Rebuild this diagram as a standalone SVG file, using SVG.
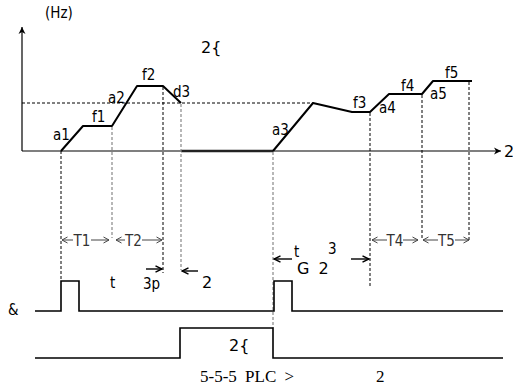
<svg xmlns="http://www.w3.org/2000/svg" width="513" height="390" viewBox="0 0 513 390">
<defs>
<style>
.ax{stroke:#000;stroke-width:1.2;fill:none}
.cv{stroke:#000;stroke-width:2;fill:none;stroke-linejoin:round}
.dk{stroke:#000;stroke-width:1;stroke-dasharray:3 2;fill:none}
.dg{stroke:#888;stroke-width:1.2;stroke-dasharray:3 2;fill:none}
.dim{stroke:#444;stroke-width:1;fill:none}
.arr{stroke:#000;stroke-width:1.4;fill:none}
.pl{stroke:#000;stroke-width:1.6;fill:none}
.lb{font-family:"DejaVu Sans Condensed","DejaVu Sans",sans-serif;font-size:15px;fill:#000}
.tl{font-family:"DejaVu Sans Condensed","DejaVu Sans",sans-serif;font-size:15px;fill:#333}
.wd{font-family:"DejaVu Sans",sans-serif;font-size:16px;fill:#000}
.cap{font-family:"Liberation Serif",serif;font-size:17px;fill:#000}
</style>
<marker id="ah" markerWidth="8" markerHeight="8" refX="7" refY="4" orient="auto" markerUnits="userSpaceOnUse">
<path d="M0,0.5 L7,4 L0,7.5 L2,4 Z" fill="#000"/>
</marker>
<marker id="ao" markerWidth="8" markerHeight="8" refX="6.5" refY="4" orient="auto" markerUnits="userSpaceOnUse">
<path d="M1,1 L6.5,4 L1,7" fill="none" stroke="#444" stroke-width="1"/>
</marker>
<marker id="ab" markerWidth="9" markerHeight="8" refX="7.5" refY="4" orient="auto" markerUnits="userSpaceOnUse">
<path d="M1,0.8 L7.5,4 L1,7.2" fill="none" stroke="#000" stroke-width="1.4"/>
</marker>
</defs>

<g id="axes">
<line class="ax" x1="22" y1="151" x2="22" y2="27" marker-end="url(#ah)"/>
<line class="ax" x1="22" y1="151" x2="501" y2="151" marker-end="url(#ah)"/>
<text class="lb" x="45" y="18">(Hz)</text>
<text class="wd" x="504" y="157">2</text>
</g>

<g id="curve">
<polyline class="cv" points="61,151 83,126 112,126 137,86 163,86 181,103"/>
<line x1="181" y1="151" x2="273" y2="151" stroke="#222" stroke-width="2.5"/>
<polyline class="cv" points="273,151 313,103 352,112 370,112 389,94 422,94 433,81 472,81"/>
<text class="wd" x="201" y="53">2{</text>
</g>

<g id="labels">
<text class="lb" x="53" y="140">a1</text>
<text class="lb" x="92" y="122">f1</text>
<text class="lb" x="108" y="103">a2</text>
<text class="lb" x="142" y="80">f2</text>
<text class="lb" x="173" y="97">d3</text>
<text class="lb" x="272" y="135">a3</text>
<text class="lb" x="353" y="108">f3</text>
<text class="lb" x="379" y="113">a4</text>
<text class="lb" x="401" y="91">f4</text>
<text class="lb" x="430" y="99">a5</text>
<text class="lb" x="445" y="78">f5</text>
</g>

<g id="guides">
<line class="dk" x1="22" y1="103" x2="313" y2="103"/>
<line class="dk" x1="61" y1="151" x2="61" y2="281"/>
<line class="dg" x1="112" y1="127" x2="112" y2="238"/>
<line class="dk" x1="163" y1="87" x2="163" y2="273"/>
<line class="dg" x1="181" y1="104" x2="181" y2="270"/>
<line class="dg" x1="273" y1="152" x2="273" y2="328"/>
<line class="dk" x1="370" y1="113" x2="370" y2="287"/>
<line class="dk" x1="422" y1="95" x2="422" y2="240"/>
<line class="dk" x1="469" y1="82" x2="469" y2="240"/>
</g>

<g id="dimensions">
<line class="dim" x1="73" y1="240" x2="62" y2="240" marker-end="url(#ao)"/>
<line class="dim" x1="91" y1="240" x2="109" y2="240" marker-end="url(#ao)"/>
<text class="tl" x="82" y="246" text-anchor="middle">T1</text>
<line class="dim" x1="125" y1="240" x2="116" y2="240" marker-end="url(#ao)"/>
<line class="dim" x1="142" y1="240" x2="162" y2="240" marker-end="url(#ao)"/>
<text class="tl" x="133.5" y="246" text-anchor="middle">T2</text>
<line class="dim" x1="387" y1="240" x2="372" y2="240" marker-end="url(#ao)"/>
<line class="dim" x1="403" y1="240" x2="418" y2="240" marker-end="url(#ao)"/>
<text class="tl" x="395" y="246" text-anchor="middle">T4</text>
<line class="dim" x1="438" y1="240" x2="423" y2="240" marker-end="url(#ao)"/>
<line class="dim" x1="455" y1="240" x2="469" y2="240" marker-end="url(#ao)"/>
<text class="tl" x="446.5" y="246" text-anchor="middle">T5</text>

<line class="arr" x1="146" y1="269" x2="162" y2="269" marker-end="url(#ab)"/>
<line class="arr" x1="198" y1="271" x2="182" y2="271" marker-end="url(#ab)"/>
<text class="lb" x="110" y="288">t</text>
<text class="lb" x="143" y="289">3p</text>
<text class="wd" x="202" y="288">2</text>

<line class="arr" x1="292" y1="259" x2="274" y2="259" marker-end="url(#ab)"/>
<line class="arr" x1="351" y1="259" x2="369" y2="259" marker-end="url(#ab)"/>
<text class="lb" x="294" y="257">t</text>
<text class="lb" x="328" y="254" font-size="13">3</text>
<text class="wd" x="297" y="274" letter-spacing="9">G2</text>
</g>

<g id="signals">
<text class="lb" x="8" y="315">&amp;</text>
<polyline class="pl" points="35,311 61,311 61,281 79,281 79,311 274,311 274,281 292,281 292,311 503,311"/>
<polyline class="pl" points="35,358 180,358 180,328 273,328 273,358 503,358"/>
<text class="wd" x="229" y="351">2{</text>
</g>

<g id="caption">
<text class="cap" x="200" y="382" word-spacing="4">5-5-5 PLC &gt;</text>
<text class="cap" x="376" y="382">2</text>
</g>
</svg>
